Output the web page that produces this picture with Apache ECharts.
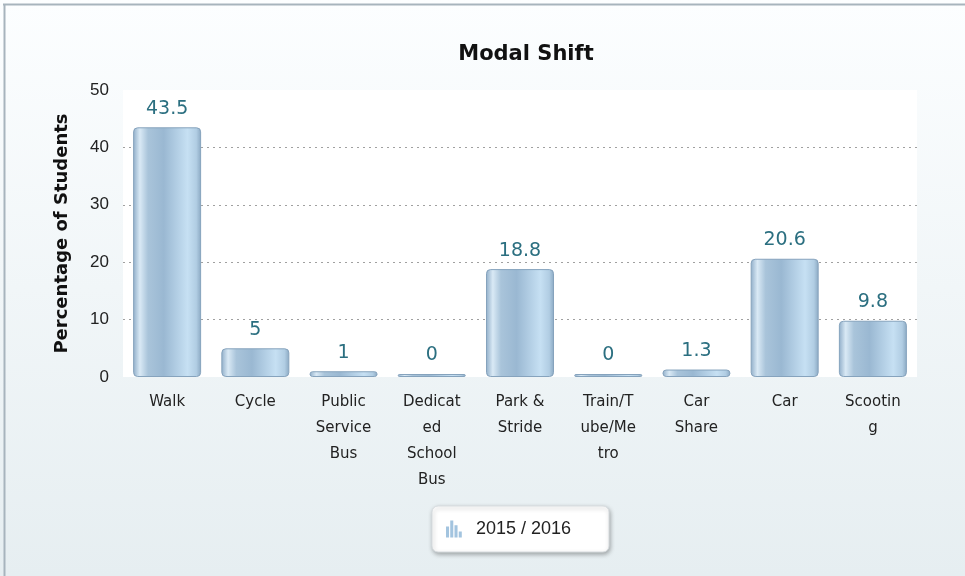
<!DOCTYPE html>
<html lang="en">
<head>
    <meta charset="UTF-8">
    <title>Modal Shift</title>
    <script src="https://cdn.jsdelivr.net/npm/echarts@6/dist/echarts.min.js"></script>
    <style>
        html, body { margin: 0; padding: 0; }
        #container { width: 965px; height: 576px; }
    </style>
</head>
<body>
<div id="container"></div>
<script type="text/javascript">
var categories = ['Walk', 'Cycle', 'Public Service Bus', 'Dedicated School Bus', 'Park & Stride',
    'Train/Tube/Metro', 'Car Share', 'Car', 'Scooting'];
var values = [43.5, 5, 1, 0, 18.8, 0, 1.3, 20.6, 9.8];
var seriesName = '2015 / 2016';
var yTicks = [0, 10, 20, 30, 40, 50];

// wrap a label roughly the way the original does (about 7 chars a line, long words split)
function wrapLabel(str) {
    var lim = 7;
    function w(s) {
        var n = 0;
        for (var i = 0; i < s.length; i++) n += (s[i] === 'M' || s[i] === 'W') ? 1.5 : 1;
        return n;
    }
    var lines = [];
    var cur = '';
    str.split(' ').forEach(function (word) {
        var test = cur ? cur + ' ' + word : word;
        if (w(test) <= lim) { cur = test; return; }
        if (cur) lines.push(cur);
        cur = '';
        var chunk = '';
        for (var i = 0; i < word.length; i++) {
            if (w(chunk + word[i]) > lim) { lines.push(chunk); chunk = ''; }
            chunk += word[i];
        }
        cur = chunk;
    });
    if (cur) lines.push(cur);
    return lines.join('\n');
}

var barColor = new echarts.graphic.LinearGradient(0, 0, 1, 0, [
    {offset: 0, color: '#8fadc8'},
    {offset: 0.1, color: '#d9e9f5'},
    {offset: 0.22, color: '#a9c4da'},
    {offset: 0.45, color: '#9ab8d2'},
    {offset: 0.8, color: '#c6e0f3'},
    {offset: 0.93, color: '#b1cde3'},
    {offset: 1, color: '#8aa8c2'}
]);

var myChart = echarts.init(document.getElementById('container'));
var option = {
    backgroundColor: new echarts.graphic.LinearGradient(0, 0, 0, 1, [
        {offset: 0, color: '#fcfeff'},
        {offset: 1, color: '#e6eef1'}
    ]),
    animation: false,
    graphic: [
        {type: 'line', shape: {x1: 3, y1: 4.5, x2: 965, y2: 4.5}, style: {stroke: '#a7b4bd', lineWidth: 2}},
        {type: 'line', shape: {x1: 4.5, y1: 4, x2: 4.5, y2: 576}, style: {stroke: '#a7b4bd', lineWidth: 2}}
    ],
    title: {
        text: 'Modal Shift',
        left: 521,
        textAlign: 'center',
        top: 39,
        textStyle: {fontFamily: 'DejaVu Sans', fontSize: 21, fontWeight: 'bold', color: '#111'}
    },
    legend: {
        data: [{name: seriesName, icon: 'path://M0,5h2.5v9h-2.5z M3.5,0h2.5v14h-2.5z M7,4h2.5v10h-2.5z M10.5,9h2.5v5h-2.5z'}],
        left: 432,
        top: 506,
        padding: [14, 38, 14, 14],
        itemWidth: 16,
        itemHeight: 17,
        itemGap: 10,
        itemStyle: {color: '#a3c4df', borderWidth: 0},
        backgroundColor: '#fff',
        borderColor: '#d8dde0',
        borderWidth: 1,
        borderRadius: 6,
        shadowColor: 'rgba(0,0,0,0.3)',
        shadowBlur: 4,
        shadowOffsetX: 1,
        shadowOffsetY: 2,
        textStyle: {fontFamily: 'Liberation Sans', fontSize: 18, color: '#222', padding: [0, 0, 0, 9]},
        selectedMode: false
    },
    grid: {
        left: 123,
        right: 48,
        top: 90,
        bottom: 199,
        show: true,
        backgroundColor: '#ffffff',
        borderWidth: 0
    },
    xAxis: {
        type: 'category',
        data: categories,
        axisLine: {show: false},
        axisTick: {show: false},
        axisLabel: {
            interval: 0,
            margin: 12,
            fontFamily: 'DejaVu Sans',
            fontSize: 15,
            lineHeight: 26,
            color: '#222',
            verticalAlign: 'top',
            formatter: wrapLabel
        }
    },
    yAxis: {
        type: 'value',
        min: yTicks[0],
        max: yTicks[yTicks.length - 1],
        interval: 10,
        name: 'Percentage of Students',
        nameLocation: 'middle',
        nameGap: 52,
        nameTextStyle: {fontFamily: 'DejaVu Sans', fontSize: 18, fontWeight: 'bold', color: '#111'},
        axisLine: {show: false},
        axisTick: {show: false},
        axisLabel: {fontFamily: 'Liberation Sans', fontSize: 17, color: '#222', margin: 14},
        splitLine: {
            show: true,
            showMinLine: false,
            showMaxLine: false,
            lineStyle: {color: '#a0a0a0', type: [2, 4], width: 1}
        }
    },
    series: [{
        name: seriesName,
        type: 'bar',
        data: values,
        barWidth: 68,
        barMinHeight: 3,
        itemStyle: {
            color: barColor,
            borderColor: '#86a3bd',
            borderWidth: 1,
            borderRadius: 4
        },
        label: {
            show: true,
            position: 'top',
            distance: 9,
            fontFamily: 'DejaVu Sans',
            fontSize: 19,
            color: '#2b6f80'
        }
    }]
};
myChart.setOption(option);
</script>
</body>
</html>
